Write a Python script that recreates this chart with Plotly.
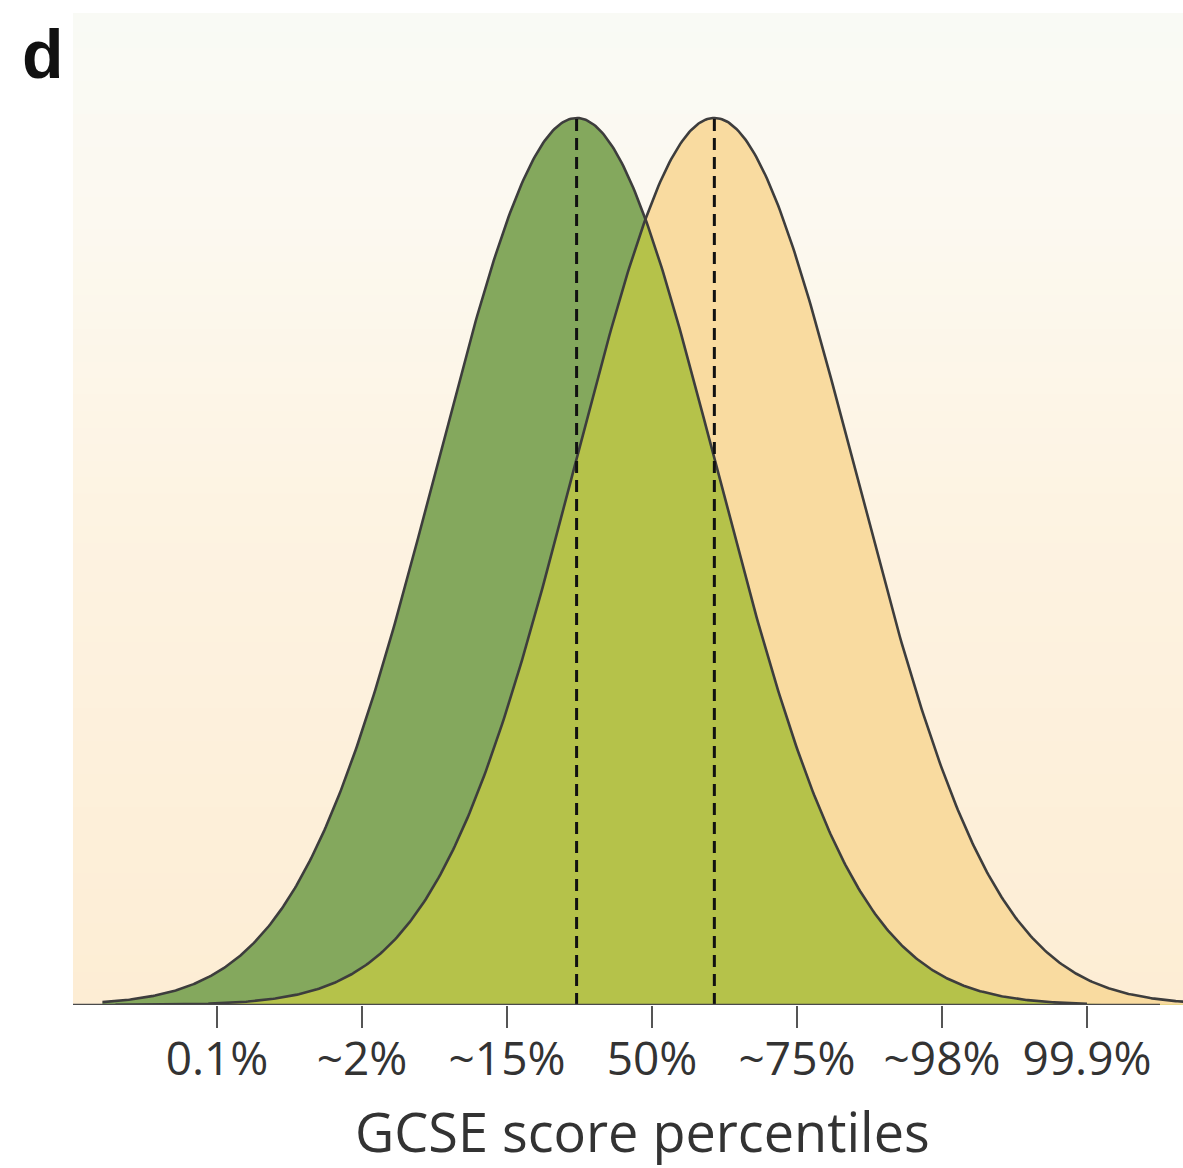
import numpy as np
import plotly.graph_objects as go

# ---- data (x in SD units, 50% percentile at 0) ----
tick_positions = [-3, -2, -1, 0, 1, 2, 3]
tick_labels = ["0.1%", "~2%", "~15%", "50%", "~75%", "~98%", "99.9%"]
green_mean = -0.52
orange_mean = 0.43
sd = 0.965
green_span = [-3.79, 3.0]
orange_span = [-3.7, 3.8]
x_title = "GCSE score percentiles"
panel_label = "d"

GREEN = "#84a85d"
OVERLAP = "#b5c24a"
ORANGE = "#f9dba0"
OUTLINE = "#3d3d3d"

def curve(mean, span):
    x = np.linspace(span[0], span[1], 600)
    y = np.exp(-((x - mean) ** 2) / (2 * sd ** 2))
    return x, y

xg, yg = curve(green_mean, green_span)
xo, yo = curve(orange_mean, orange_span)
xc = np.linspace(-3.8, 3.8, 800)
yc = np.minimum(np.exp(-((xc - green_mean) ** 2) / (2 * sd ** 2)),
                np.exp(-((xc - orange_mean) ** 2) / (2 * sd ** 2)))

fig = go.Figure()
fig.add_trace(go.Scatter(x=xo, y=yo, mode="lines", fill="tozeroy", fillcolor=ORANGE,
                         line=dict(width=0), hoverinfo="skip", showlegend=False))
fig.add_trace(go.Scatter(x=xg, y=yg, mode="lines", fill="tozeroy", fillcolor=GREEN,
                         line=dict(width=0), hoverinfo="skip", showlegend=False))
fig.add_trace(go.Scatter(x=xc, y=yc, mode="lines", fill="tozeroy", fillcolor=OVERLAP,
                         line=dict(width=0), hoverinfo="skip", showlegend=False))
fig.add_trace(go.Scatter(x=xo, y=yo, mode="lines", line=dict(color=OUTLINE, width=2.6),
                         hoverinfo="skip", showlegend=False))
fig.add_trace(go.Scatter(x=xg, y=yg, mode="lines", line=dict(color=OUTLINE, width=2.6),
                         hoverinfo="skip", showlegend=False))
for m in (green_mean, orange_mean):
    fig.add_trace(go.Scatter(x=[m, m], y=[0, 1], mode="lines",
                             line=dict(color="#111111", width=3, dash="12px,7px"),
                             hoverinfo="skip", showlegend=False))

# background gradient (bands)
stops = [(0.0, (253, 237, 212)), (0.5, (253, 243, 226)), (0.8, (252, 249, 240)), (1.0, (249, 250, 245))]
def interp(t):
    for (t0, c0), (t1, c1) in zip(stops[:-1], stops[1:]):
        if t0 <= t <= t1:
            f = (t - t0) / (t1 - t0)
            return tuple(int(round(a + (b - a) * f)) for a, b in zip(c0, c1))
    return stops[-1][1]
n = 60
shapes = []
for i in range(n):
    c = interp((i + 0.5) / n)
    shapes.append(dict(type="rect", xref="paper", yref="paper", x0=0, x1=1,
                       y0=i / n, y1=(i + 1) / n + 0.002, layer="below",
                       line=dict(width=0), fillcolor="rgb(%d,%d,%d)" % c))
# baseline axis line
shapes.append(dict(type="line", xref="paper", yref="y", x0=0, x1=(1160 - 73) / (1183 - 73),
                   y0=0, y1=0, line=dict(color="#4a4a4a", width=2.5), layer="above"))

fig.update_layout(
    width=1183, height=1168,
    margin=dict(l=73, r=0, t=15, b=163),
    paper_bgcolor="white", plot_bgcolor="rgba(0,0,0,0)",
    shapes=shapes,
    xaxis=dict(range=[(73 - 652) / 145, (1183 - 652) / 145], tickvals=tick_positions,
               ticktext=tick_labels, ticks="outside", ticklen=22, tickwidth=2,
               tickcolor="#555555", showgrid=False, zeroline=False, showline=False,
               ticklabelstandoff=-8,
               tickfont=dict(family="Open Sans", size=46, color="#333333")),
    yaxis=dict(range=[0, 1 / 0.896], showticklabels=False, showgrid=False,
               zeroline=False, showline=False, ticks=""),
    annotations=[
        dict(text=x_title, xref="paper", yref="paper", x=(642 - 73) / 1110, y=-(1131 - 1005) / 990,
             xanchor="center", yanchor="middle", showarrow=False,
             font=dict(family="Open Sans", size=54, color="#333333")),
        dict(text="<b>" + panel_label + "</b>", xref="paper", yref="paper",
             x=-0.048, y=(1005 - 54) / 990, xanchor="left", yanchor="middle", showarrow=False,
             font=dict(family="Liberation Sans", size=68, color="#111111")),
    ],
)
fig.write_html("out.html")
